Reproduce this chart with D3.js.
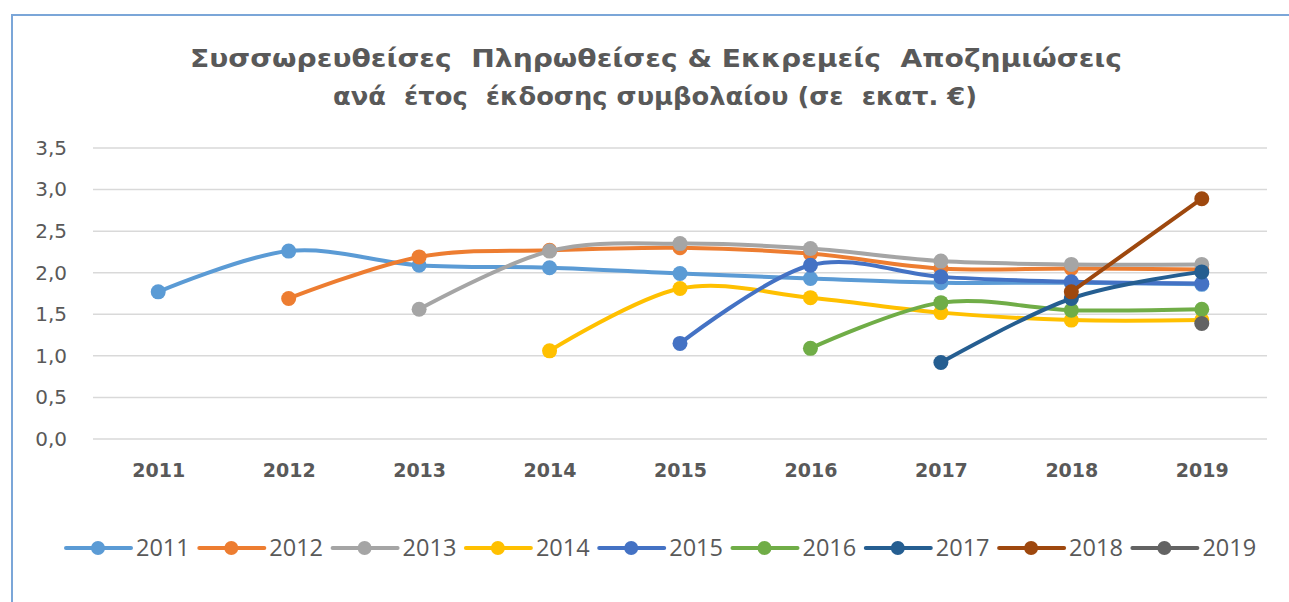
<!DOCTYPE html>
<html>
<head>
<meta charset="utf-8">
<script src="https://cdn.jsdelivr.net/npm/d3@7"></script>
<style>
  body { margin: 0; background: #fff; }
  svg { display: block; }
</style>
</head>
<body>
<div id="chart"></div>
<script>
// Data (values in million €)
const years = ["2011", "2012", "2013", "2014", "2015", "2016", "2017", "2018", "2019"];
const yTicks = [0, 0.5, 1, 1.5, 2, 2.5, 3, 3.5];

const s2011 = [1.77, 2.26, 2.09, 2.06, 1.99, 1.93, 1.88, 1.88, 1.86];
const s2012 = [null, 1.69, 2.19, 2.27, 2.30, 2.23, 2.05, 2.05, 2.04];
const s2013 = [null, null, 1.56, 2.26, 2.35, 2.29, 2.14, 2.10, 2.10];
const s2014 = [null, null, null, 1.06, 1.81, 1.70, 1.52, 1.43, 1.43];
const s2015 = [null, null, null, null, 1.15, 2.09, 1.95, 1.89, 1.87];
const s2016 = [null, null, null, null, null, 1.09, 1.64, 1.55, 1.56];
const s2017 = [null, null, null, null, null, null, 0.92, 1.69, 2.01];
const s2018 = [null, null, null, null, null, null, null, 1.77, 2.89];
const s2019 = [null, null, null, null, null, null, null, null, 1.39];

const seriesNames = ["2011", "2012", "2013", "2014", "2015", "2016", "2017", "2018", "2019"];
const seriesValues = [s2011, s2012, s2013, s2014, s2015, s2016, s2017, s2018, s2019];
const colors = ["#5B9BD5", "#ED7D31", "#A5A5A5", "#FFC000", "#4472C4", "#70AD47", "#255E91", "#9E480E", "#636363"];

const width = 1289;
const height = 602;
const textColor = "#595959";

const svg = d3.select("#chart")
  .append("svg")
  .attr("width", width)
  .attr("height", height);

// chart area border (only top and left visible in the picture)
svg.append("path")
  .attr("d", "M12,602 L12,15 L1289,15")
  .attr("fill", "none")
  .attr("stroke", "#7BA6D8")
  .attr("stroke-width", 2);

// Title
const title = svg.append("g")
  .attr("font-family", "'DejaVu Sans', Verdana, sans-serif")
  .attr("font-weight", "bold")
  .attr("font-size", 25)
  .attr("fill", textColor)
  .attr("text-anchor", "middle");

title.append("text")
  .attr("x", 656).attr("y", 67)
  .attr("textLength", 932).attr("lengthAdjust", "spacingAndGlyphs")
  .style("white-space", "pre")
  .text("Συσσωρευθείσες  Πληρωθείσες & Εκκρεμείς  Αποζημιώσεις");

title.append("text")
  .attr("x", 655).attr("y", 105)
  .attr("textLength", 644).attr("lengthAdjust", "spacingAndGlyphs")
  .style("white-space", "pre")
  .text("ανά  έτος  έκδοσης συμβολαίου (σε  εκατ. €)");

// Scales
const x = d3.scalePoint()
  .domain(years)
  .range([93, 1267])
  .padding(0.5);

const y = d3.scaleLinear()
  .domain([0, 3.5])
  .range([439, 148]);

// Gridlines
svg.append("g")
  .selectAll("line")
  .data(yTicks)
  .enter()
  .append("line")
  .attr("x1", 93)
  .attr("x2", 1267)
  .attr("y1", d => y(d))
  .attr("y2", d => y(d))
  .attr("stroke", "#D9D9D9")
  .attr("stroke-width", 1.5);

// Y axis labels
const yAxis = svg.append("g")
  .attr("transform", "translate(67,0)")
  .call(d3.axisLeft(y).tickValues(yTicks).tickSize(0).tickPadding(0)
    .tickFormat(d => d3.format(".1f")(d).replace(".", ",")));
yAxis.select(".domain").remove();
yAxis.selectAll("text")
  .attr("font-family", "'DejaVu Sans', Verdana, sans-serif")
  .attr("font-size", 20)
  .attr("fill", textColor);

// X axis labels
const xAxis = svg.append("g")
  .attr("transform", "translate(0,457)")
  .call(d3.axisBottom(x).tickSize(0).tickPadding(0));
xAxis.select(".domain").remove();
xAxis.selectAll("text")
  .attr("font-family", "'DejaVu Sans', Verdana, sans-serif")
  .attr("font-weight", "bold")
  .attr("font-size", 19)
  .attr("fill", textColor)
  .attr("dy", "1.05em");

// Lines and markers
const line = d3.line()
  .defined(d => d.v !== null)
  .x(d => x(d.year))
  .y(d => y(d.v))
  .curve(d3.curveCatmullRom.alpha(0));

seriesNames.forEach((name, i) => {
  const pts = seriesValues[i].map((v, j) => ({ year: years[j], v: v }))
    .filter(d => d.v !== null);
  const g = svg.append("g");
  g.append("path")
    .datum(pts)
    .attr("d", line)
    .attr("fill", "none")
    .attr("stroke", colors[i])
    .attr("stroke-width", 4)
    .attr("stroke-linecap", "round");
  g.selectAll("circle")
    .data(pts)
    .enter()
    .append("circle")
    .attr("cx", d => x(d.year))
    .attr("cy", d => y(d.v))
    .attr("r", 7.5)
    .attr("fill", colors[i]);
});

// Legend
const legend = svg.append("g")
  .attr("transform", "translate(66,548)");

const item = legend.selectAll("g")
  .data(seriesNames)
  .enter()
  .append("g")
  .attr("transform", (d, i) => `translate(${i * 133.3},0)`);

item.append("line")
  .attr("x1", 0).attr("x2", 65)
  .attr("y1", 0).attr("y2", 0)
  .attr("stroke", (d, i) => colors[i])
  .attr("stroke-width", 4)
  .attr("stroke-linecap", "round");

item.append("circle")
  .attr("cx", 32)
  .attr("cy", 0)
  .attr("r", 7)
  .attr("fill", (d, i) => colors[i]);

item.append("text")
  .attr("x", 70)
  .attr("y", 8)
  .attr("font-family", "'Open Sans', sans-serif")
  .attr("font-size", 23.5)
  .attr("fill", textColor)
  .text(d => d);
</script>
</body>
</html>
